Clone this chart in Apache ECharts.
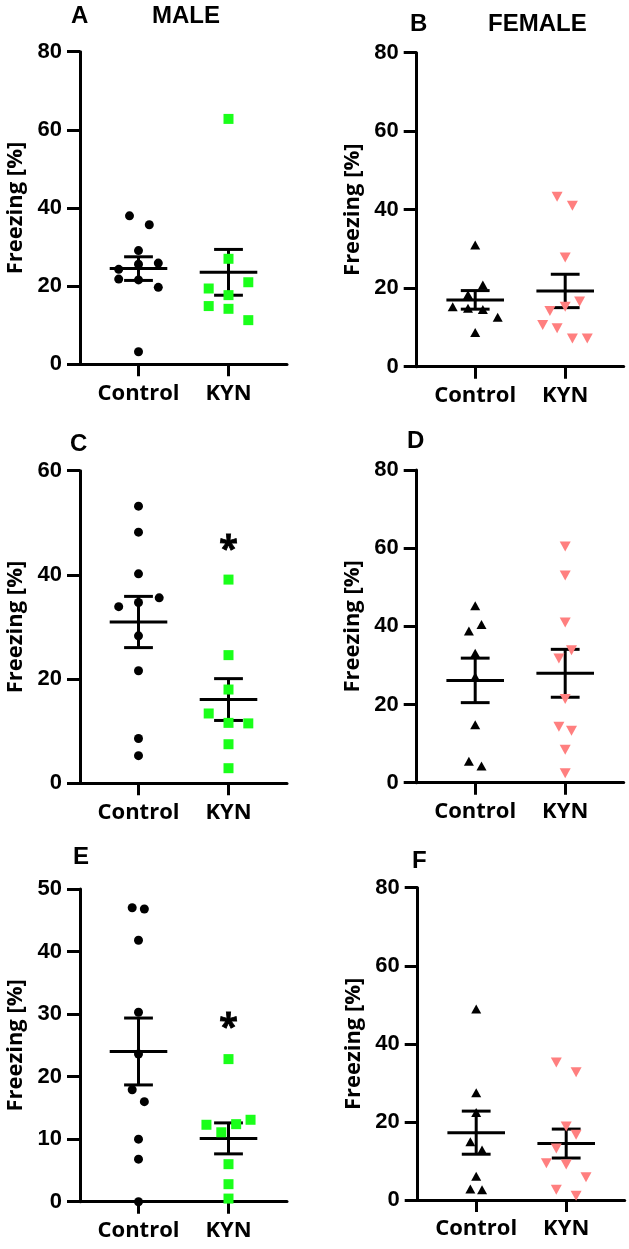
<!DOCTYPE html>
<html><head><meta charset="utf-8">
<script src="https://cdn.jsdelivr.net/npm/echarts@6/dist/echarts.min.js"></script>
<style>html,body{margin:0;padding:0;background:#fff}#c{width:629px;height:1249px}</style>
</head><body><div id="c"></div>
<script>
const categories = ['Control', 'KYN'];
const panelLetters = ['A', 'B', 'C', 'D', 'E', 'F'];
const sexHeaders = ['MALE', 'FEMALE'];
const yLabel = 'Freezing [%]';
const yMax = [80, 80, 60, 80, 50, 80];
const yStep = [20, 20, 20, 20, 10, 20];

// Freezing values
const aControl = [38.0, 35.7, 29.1, 25.9, 25.6, 24.3, 21.8, 21.6, 19.7, 3.2];
const aKyn     = [62.8, 27.0, 21.0, 19.4, 17.7, 14.9, 14.2, 11.3];
const bControl = [31.0, 20.8, 18.3, 15.3, 14.9, 14.6, 12.6, 8.7];
const bKyn     = [43.3, 41.0, 27.8, 16.6, 15.3, 14.2, 10.6, 9.8, 7.2, 7.2];
const cControl = [53.2, 48.2, 40.2, 35.6, 34.7, 33.9, 28.3, 21.6, 8.6, 5.3];
const cKyn     = [39.1, 24.6, 18.0, 13.4, 11.6, 11.5, 7.5, 2.9];
const dControl = [45.3, 40.5, 38.8, 33.1, 27.1, 14.8, 5.5, 4.3];
const dKyn     = [60.4, 53.0, 41.0, 33.9, 31.8, 21.4, 14.3, 13.3, 8.4, 2.4];
const eControl = [47.0, 46.8, 41.8, 30.3, 23.6, 17.9, 16.0, 10.0, 6.8, 0.0];
const eKyn     = [22.8, 13.1, 12.4, 12.3, 11.1, 6.0, 2.8, 0.5];
const fControl = [48.9, 27.5, 22.4, 14.9, 12.8, 6.1, 2.8, 2.6];
const fKyn     = [35.2, 32.7, 18.8, 16.7, 13.2, 9.4, 9.1, 5.8, 2.6, 1.1];

// horizontal scatter-dot jitter (category units)
const aControlJitter = [-0.10, 0.12, 0, 0.22, 0, -0.22, -0.22, 0, 0.22, 0];
const aKynJitter     = [0, 0, 0.22, -0.22, 0, -0.22, 0, 0.22];
const bControlJitter = [0, 0.085, -0.08, -0.25, -0.08, 0.085, 0.25, 0];
const bKynJitter     = [-0.09, 0.08, 0, 0.16, 0, -0.17, -0.25, -0.09, 0.08, 0.245];
const cControlJitter = [0, 0, 0, 0.23, 0, -0.22, 0, 0, 0, 0];
const cKynJitter     = [0, 0, 0, -0.22, 0, 0.22, 0, 0];
const dControlJitter = [0, 0.07, -0.07, 0, 0, 0, -0.07, 0.07];
const dKynJitter     = [0, 0, 0, 0.07, -0.07, 0, -0.07, 0.07, 0, 0];
const eControlJitter = [-0.07, 0.065, 0, 0, 0, -0.07, 0.065, 0, 0, 0];
const eKynJitter     = [0, 0.245, 0.085, -0.245, -0.08, 0, 0, 0];
const fControlJitter = [0, 0, 0, -0.065, 0.065, 0, -0.065, 0.065];
const fKynJitter     = [-0.11, 0.11, 0, 0.11, -0.11, -0.22, 0, 0.22, -0.11, 0.11];

// significance marks (value where "*" sits above KYN), null = none
const starLevel = [null, null, 46.1, null, 28.8, null];

const groups = [
  [aControl, aKyn, aControlJitter, aKynJitter],
  [bControl, bKyn, bControlJitter, bKynJitter],
  [cControl, cKyn, cControlJitter, cKynJitter],
  [dControl, dKyn, dControlJitter, dKynJitter],
  [eControl, eKyn, eControlJitter, eKynJitter],
  [fControl, fKyn, fControlJitter, fKynJitter]
];

// layout
const gridLeft = [80, 416.7, 80, 416.7, 80, 417.7];
const gridTop = [51.7, 52.7, 470.7, 470, 889, 887.7];
const gridH = [312.6, 314, 312.6, 312.7, 312.7, 312.3];
const gridW = 207;
const letterPos = [[71, 4], [410, 12], [70, 432], [407, 429], [73, 845], [412, 849]];
const headerPos = [[152, 4], [488, 12]];

const GREEN = '#1aff1a', SALMON = '#ff7f7f';
const markerStyles = [
  [{symbol: 'circle', size: 9, color: '#000', rot: 0}, {symbol: 'rect', size: 10, color: GREEN, rot: 0}],
  [{symbol: 'triangle', size: [10, 9], color: '#000', rot: 0}, {symbol: 'triangle', size: [11, 10], color: SALMON, rot: 180}]
];

function meanSem(arr) {
  const n = arr.length;
  const m = arr.reduce((a, b) => a + b, 0) / n;
  const v = arr.reduce((a, b) => a + (b - m) * (b - m), 0) / (n - 1);
  return [m, Math.sqrt(v) / Math.sqrt(n)];
}

const numFont = 'Liberation Sans';
const txtFont = 'Open Sans';

const grids = [], xAxes = [], yAxes = [], series = [], titles = [];
groups.forEach((g, i) => {
  grids.push({left: gridLeft[i], top: gridTop[i], width: gridW, height: gridH[i], containLabel: false});
  xAxes.push({
    gridIndex: i, type: 'value', min: -0.65, max: 1.65,
    axisLine: {show: true, onZero: false, lineStyle: {color: '#000', width: 3}},
    axisTick: {show: true, customValues: [0, 1], length: 12, lineStyle: {color: '#000', width: 3}},
    axisLabel: {show: true, customValues: [0, 1], formatter: v => categories[Math.round(v)],
      fontFamily: txtFont, fontWeight: 'bold', fontSize: 22, color: '#000', margin: 18},
    splitLine: {show: false}
  });
  yAxes.push({
    gridIndex: i, type: 'value', min: 0, max: yMax[i], interval: yStep[i],
    axisLine: {show: true, onZero: false, lineStyle: {color: '#000', width: 3}},
    axisTick: {show: true, length: 13, lineStyle: {color: '#000', width: 3}},
    axisLabel: {fontFamily: numFont, fontWeight: 'bold', fontSize: 22, color: '#000', margin: 18},
    splitLine: {show: false},
    name: yLabel, nameLocation: 'middle', nameGap: 53,
    nameTextStyle: {fontFamily: txtFont, fontWeight: 'bold', fontSize: 22, color: '#000'}
  });
  const sexIdx = i % 2;
  const stats = [meanSem(g[0]), meanSem(g[1])];
  series.push({
    type: 'custom', xAxisIndex: i, yAxisIndex: i, z: 2, silent: true,
    data: stats.map((s, k) => [k, s[0], s[1]]),
    renderItem: (params, api) => {
      const x = api.value(0), m = api.value(1), s = api.value(2);
      const c = api.coord([x, m]);
      const t = api.coord([x, m + s]);
      const b = api.coord([x, m - s]);
      const hm = api.size([0.32, 0])[0];
      const hc = api.size([0.16, 0])[0];
      const st = {stroke: '#000', lineWidth: 3, fill: null};
      return {type: 'group', children: [
        {type: 'line', shape: {x1: c[0] - hm, y1: c[1], x2: c[0] + hm, y2: c[1]}, style: st},
        {type: 'line', shape: {x1: t[0], y1: t[1], x2: b[0], y2: b[1]}, style: st},
        {type: 'line', shape: {x1: t[0] - hc, y1: t[1], x2: t[0] + hc, y2: t[1]}, style: st},
        {type: 'line', shape: {x1: b[0] - hc, y1: b[1], x2: b[0] + hc, y2: b[1]}, style: st}
      ]};
    }
  });
  [0, 1].forEach(k => {
    const ms = markerStyles[sexIdx][k];
    series.push({
      type: 'scatter', xAxisIndex: i, yAxisIndex: i, z: 3, silent: true,
      symbol: ms.symbol, symbolSize: ms.size, symbolRotate: ms.rot,
      itemStyle: {color: ms.color, opacity: 1},
      data: g[k].map((v, j) => [k + g[2 + k][j], v])
    });
  });
  if (starLevel[i] !== null) {
    series.push({
      type: 'scatter', xAxisIndex: i, yAxisIndex: i, z: 4, silent: true,
      symbolSize: 0, itemStyle: {color: '#000', opacity: 1}, data: [[1, starLevel[i]]],
      label: {show: true, position: 'inside', formatter: '*', fontFamily: txtFont,
        fontWeight: 'bold', fontSize: 34, color: '#000', opacity: 1, textBorderWidth: 0.8,
        textBorderColor: '#000', offset: [0, 7]}
    });
  }
  titles.push({text: panelLetters[i], left: letterPos[i][0], top: letterPos[i][1], padding: 0,
    textStyle: {fontFamily: numFont, fontWeight: 'bold', fontSize: 24, color: '#000'}});
});
sexHeaders.forEach((h, k) => {
  titles.push({text: h, left: headerPos[k][0], top: headerPos[k][1], padding: 0,
    textStyle: {fontFamily: numFont, fontWeight: 'bold', fontSize: 24, color: '#000'}});
});

const chart = echarts.init(document.getElementById('c'), null, {renderer: 'canvas'});
chart.setOption({
  animation: false, backgroundColor: '#fff',
  title: titles, grid: grids, xAxis: xAxes, yAxis: yAxes, series: series
});
</script>
</body></html>
